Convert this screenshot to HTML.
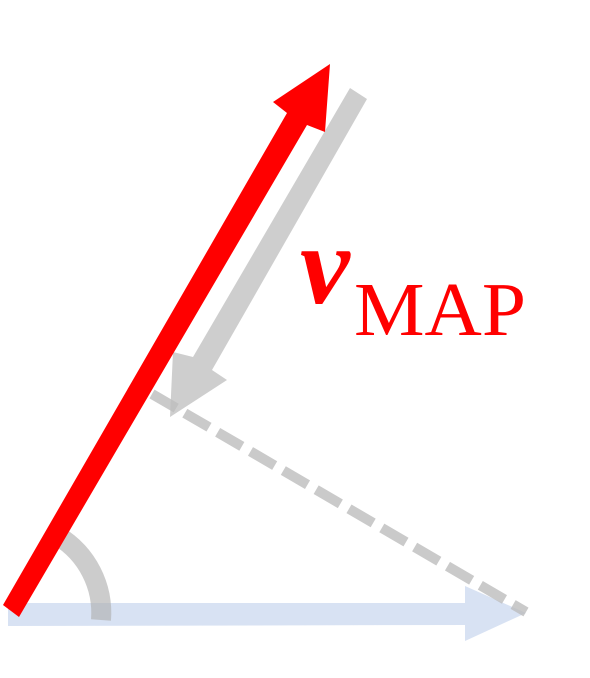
<!DOCTYPE html>
<html><head><meta charset="utf-8"><style>
html,body{margin:0;padding:0;background:#fff;}
svg{display:block;}
</style></head><body>
<svg width="590" height="678" viewBox="0 0 590 678">
  <g fill="#d6e0f2" opacity="0.95">
    <polygon points="8,603 465,603 465,586 526,613 465,641 465,625 8,626"/>
  </g>
  <line x1="152" y1="394" x2="526" y2="612" stroke="#bdbdbd" stroke-opacity="0.8" stroke-width="10" stroke-dasharray="28,10"/>
  <path d="M58,536 A90,90 0 0 1 101,620" fill="none" stroke="#b0b0b0" stroke-opacity="0.65" stroke-width="20"/>
  <g fill="#bdbdbd" opacity="0.75">
    <polygon points="350,88 367,99 212,370 227,380 170,417 173,352 193,357"/>
  </g>
  <g fill="#ff0000">
    <polygon points="3,605 19,617 307,125 325,132 330,64 273,102 287,113"/>
  </g>
  <text x="300" y="303" fill="#ff0000" font-family="'Liberation Serif','DejaVu Serif',serif" font-style="italic" font-weight="bold" font-size="112">v</text>
  <text x="354" y="335" fill="#ff0000" font-family="'Liberation Serif',serif" font-size="76" textLength="172" lengthAdjust="spacingAndGlyphs">MAP</text>
</svg>
</body></html>
